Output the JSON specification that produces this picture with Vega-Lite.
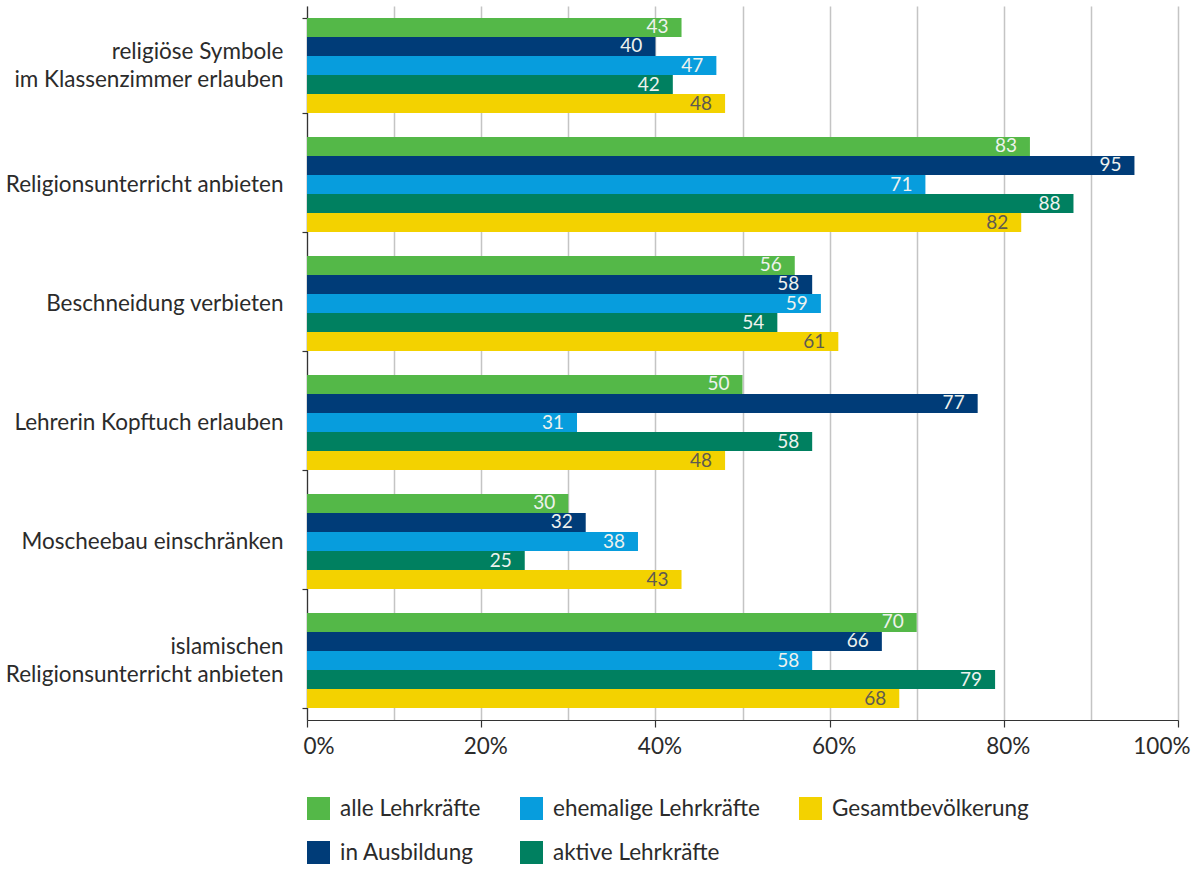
{
  "$schema": "https://vega.github.io/schema/vega-lite/v6.json",
  "width": 871,
  "height": 714,
  "autosize": {"type": "none"},
  "padding": {"left": 307, "top": 6, "right": 19, "bottom": 152},
  "background": "white",
  "config": {"view": {"stroke": null}, "font": "Lato"},
  "data": {
    "values": [
      {"cat": "religiöse Symbole|im Klassenzimmer erlauben", "grp": "alle Lehrkräfte", "v": 43},
      {"cat": "religiöse Symbole|im Klassenzimmer erlauben", "grp": "in Ausbildung", "v": 40},
      {"cat": "religiöse Symbole|im Klassenzimmer erlauben", "grp": "ehemalige Lehrkräfte", "v": 47},
      {"cat": "religiöse Symbole|im Klassenzimmer erlauben", "grp": "aktive Lehrkräfte", "v": 42},
      {"cat": "religiöse Symbole|im Klassenzimmer erlauben", "grp": "Gesamtbevölkerung", "v": 48},
      {"cat": "Religionsunterricht anbieten", "grp": "alle Lehrkräfte", "v": 83},
      {"cat": "Religionsunterricht anbieten", "grp": "in Ausbildung", "v": 95},
      {"cat": "Religionsunterricht anbieten", "grp": "ehemalige Lehrkräfte", "v": 71},
      {"cat": "Religionsunterricht anbieten", "grp": "aktive Lehrkräfte", "v": 88},
      {"cat": "Religionsunterricht anbieten", "grp": "Gesamtbevölkerung", "v": 82},
      {"cat": "Beschneidung verbieten", "grp": "alle Lehrkräfte", "v": 56},
      {"cat": "Beschneidung verbieten", "grp": "in Ausbildung", "v": 58},
      {"cat": "Beschneidung verbieten", "grp": "ehemalige Lehrkräfte", "v": 59},
      {"cat": "Beschneidung verbieten", "grp": "aktive Lehrkräfte", "v": 54},
      {"cat": "Beschneidung verbieten", "grp": "Gesamtbevölkerung", "v": 61},
      {"cat": "Lehrerin Kopftuch erlauben", "grp": "alle Lehrkräfte", "v": 50},
      {"cat": "Lehrerin Kopftuch erlauben", "grp": "in Ausbildung", "v": 77},
      {"cat": "Lehrerin Kopftuch erlauben", "grp": "ehemalige Lehrkräfte", "v": 31},
      {"cat": "Lehrerin Kopftuch erlauben", "grp": "aktive Lehrkräfte", "v": 58},
      {"cat": "Lehrerin Kopftuch erlauben", "grp": "Gesamtbevölkerung", "v": 48},
      {"cat": "Moscheebau einschränken", "grp": "alle Lehrkräfte", "v": 30},
      {"cat": "Moscheebau einschränken", "grp": "in Ausbildung", "v": 32},
      {"cat": "Moscheebau einschränken", "grp": "ehemalige Lehrkräfte", "v": 38},
      {"cat": "Moscheebau einschränken", "grp": "aktive Lehrkräfte", "v": 25},
      {"cat": "Moscheebau einschränken", "grp": "Gesamtbevölkerung", "v": 43},
      {"cat": "islamischen|Religionsunterricht anbieten", "grp": "alle Lehrkräfte", "v": 70},
      {"cat": "islamischen|Religionsunterricht anbieten", "grp": "in Ausbildung", "v": 66},
      {"cat": "islamischen|Religionsunterricht anbieten", "grp": "ehemalige Lehrkräfte", "v": 58},
      {"cat": "islamischen|Religionsunterricht anbieten", "grp": "aktive Lehrkräfte", "v": 79},
      {"cat": "islamischen|Religionsunterricht anbieten", "grp": "Gesamtbevölkerung", "v": 68}
    ]
  },
  "encoding": {
    "y": {
      "field": "cat",
      "type": "nominal",
      "sort": null,
      "title": null,
      "scale": {"paddingInner": 0.2, "paddingOuter": 0.1},
      "axis": {
        "tickBand": "extent",
        "grid": false,
        "domainColor": "#333333",
        "domainWidth": 1.2,
        "tickColor": "#333333",
        "tickWidth": 1.2,
        "tickSize": 5,
        "labelFontSize": 22.5,
        "labelColor": "#2b2b2b",
        "labelPadding": 19,
        "labelLineHeight": 28,
        "labelLimit": 0,
        "labelBaseline": {"condition": {"test": "isString(datum.value) && indexof(datum.value, '|') >= 0", "value": "line-bottom"}, "value": "middle"},
        "labelExpr": "split(datum.label, '|')"
      }
    },
    "yOffset": {
      "field": "grp",
      "type": "nominal",
      "sort": ["alle Lehrkräfte", "in Ausbildung", "ehemalige Lehrkräfte", "aktive Lehrkräfte", "Gesamtbevölkerung"],
      "scale": {"paddingInner": 0, "paddingOuter": 0}
    },
    "x": {
      "field": "v",
      "type": "quantitative",
      "title": null,
      "scale": {"domain": [0, 100]},
      "axis": {
        "values": [0, 10, 20, 30, 40, 50, 60, 70, 80, 90, 100],
        "grid": true,
        "gridColor": "#c4c4c4",
        "gridWidth": 1.5,
        "domainColor": "#333333",
        "domainWidth": 1.2,
        "tickColor": {"condition": {"test": "datum.value % 20 != 0", "value": "transparent"}, "value": "#333333"},
        "tickWidth": 1.2,
        "tickSize": 7,
        "labelExpr": "datum.value % 20 == 0 ? datum.value + '%' : ''",
        "labelFontSize": 22.5,
        "labelColor": "#2b2b2b",
        "labelPadding": 8,
        "labelFlush": true,
        "labelFlushOffset": 8,
        "labelOffset": 4
      }
    }
  },
  "layer": [
    {
      "mark": {"type": "bar"},
      "encoding": {
        "color": {
          "field": "grp",
          "type": "nominal",
          "scale": {
            "domain": ["alle Lehrkräfte", "in Ausbildung", "ehemalige Lehrkräfte", "aktive Lehrkräfte", "Gesamtbevölkerung"],
            "range": ["#54b848", "#003c78", "#079ddd", "#008060", "#f3d200"]
          },
          "legend": {
            "title": null,
            "orient": "none",
            "legendX": 0,
            "legendY": 791,
            "columns": 3,
            "columnPadding": 39,
            "rowPadding": 21,
            "padding": 0,
            "symbolType": "square",
            "symbolSize": 529,
            "symbolStrokeWidth": 0,
            "symbolOpacity": 1,
            "labelFontSize": 22.5,
            "labelOffset": 10,
            "labelColor": "#2b2b2b",
            "labelLimit": 0
          }
        }
      }
    },
    {
      "mark": {"type": "text", "align": "right", "baseline": "middle", "dx": -13, "fontSize": 19},
      "encoding": {
        "text": {"field": "v", "type": "quantitative"},
        "color": {"condition": {"test": "datum.grp == 'Gesamtbevölkerung'", "value": "#5e5a50"}, "value": "#eef2ee"}
      }
    }
  ]
}
